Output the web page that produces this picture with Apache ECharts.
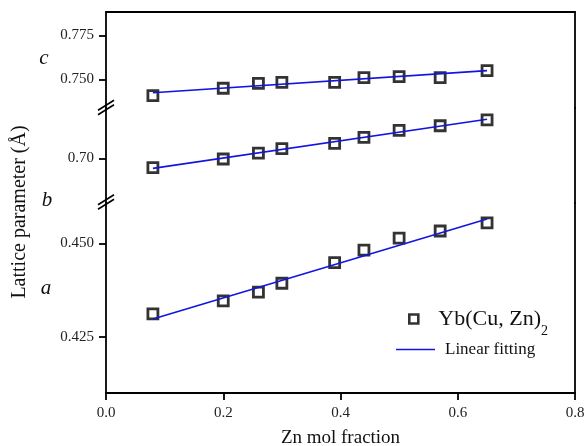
<!DOCTYPE html>
<html><head><meta charset="utf-8">
<script src="https://cdn.jsdelivr.net/npm/echarts@6/dist/echarts.min.js"></script>
<style>html,body{margin:0;padding:0;background:#fff}#c{width:587px;height:446px}</style>
</head><body><div id="c"></div>
<script>
// ---- data ----
const znFraction = [0.08, 0.2, 0.26, 0.3, 0.39, 0.44, 0.5, 0.57, 0.65];
const latticeC = [0.7407, 0.7449, 0.7477, 0.7483, 0.7483, 0.7509, 0.7515, 0.7509, 0.7549];
const latticeB = [0.6947, 0.6996, 0.7030, 0.7055, 0.7085, 0.7119, 0.7159, 0.7185, 0.7218];
const latticeA = [0.4311, 0.4346, 0.4369, 0.4393, 0.4448, 0.4482, 0.4514, 0.4533, 0.4555];
const fitX = [0.08, 0.65];
const fitC = [0.7424, 0.7549];
const fitB = [0.6943, 0.7222];
const fitA = [0.4297, 0.4565];
const xTickLabels = [0, 0.2, 0.4, 0.6, 0.8];
const yTicksC = [0.75, 0.775];
const yTicksB = [0.70];
const yTicksA = [0.425, 0.45];
const segLetters = ['c', 'b', 'a'];
const xTitle = 'Zn mol fraction';
const yTitle = 'Lattice parameter (Å)';
const legendScatter = 'Yb(Cu, Zn)2';
const legendFit = 'Linear fitting';

// ---- layout ----
const FONT = 'Liberation Serif';
const L = 106, R = 12;
const BLUE = '#1414e0';
const grids = [
  {top: 12, height: 96, min: 0.7337, max: 0.7882, ticks: yTicksC, dec: 3, vals: latticeC, fit: fitC},
  {top: 108, height: 95, min: 0.6746, max: 0.7286, ticks: yTicksB, dec: 2, vals: latticeB, fit: fitB},
  {top: 203, height: 190, min: 0.4099, max: 0.4608, ticks: yTicksA, dec: 3, vals: latticeA, fit: fitA}
];
const axisLine = {show: true, onZero: false, lineStyle: {color: '#000', width: 1.8}};
const labelStyle = {color: '#222', fontFamily: FONT, fontSize: 15};

const chart = echarts.init(document.getElementById('c'), null, {renderer: 'canvas'});

const option = {
  animation: false,
  backgroundColor: '#fff',
  grid: grids.map(g => ({left: L, right: R, top: g.top, height: g.height, outerBoundsMode: 'none', containLabel: false})),
  xAxis: grids.map((g, i) => ({
    type: 'value', gridIndex: i, min: 0, max: 0.8, interval: 0.2,
    position: i === 0 ? 'top' : 'bottom',
    show: i !== 1,
    axisLine: axisLine,
    axisTick: {show: i === 2, inside: false, length: 7, customValues: xTickLabels, lineStyle: {color: '#000', width: 1.8}},
    axisLabel: {show: i === 2, margin: 13, customValues: xTickLabels, formatter: v => v.toFixed(1), ...labelStyle},
    splitLine: {show: false},
    name: i === 2 ? xTitle : '',
    nameLocation: 'middle', nameGap: 36,
    nameTextStyle: {color: '#111', fontFamily: FONT, fontSize: 19}
  })),
  yAxis: grids.map((g, i) => ({
    type: 'value', gridIndex: i, min: g.min, max: g.max, position: 'left',
    axisLine: axisLine,
    axisTick: {show: true, inside: false, length: 7, customValues: g.ticks, lineStyle: {color: '#000', width: 1.8}},
    axisLabel: {show: true, margin: 12, customValues: g.ticks, formatter: v => v.toFixed(g.dec), ...labelStyle},
    splitLine: {show: false}
  })).concat(grids.map((g, i) => ({
    type: 'value', gridIndex: i, min: g.min, max: g.max, position: 'right',
    axisLine: axisLine, axisTick: {show: false}, axisLabel: {show: false}, splitLine: {show: false}
  }))),
  legend: [
    {
      data: [{name: legendScatter, icon: 'rect', itemStyle: {color: 'rgba(0,0,0,0)', borderColor: '#000', borderWidth: 2.6}}],
      left: 408, top: 308, padding: 0, itemWidth: 9, itemHeight: 9,
      formatter: () => '{a|Yb(Cu, Zn)}{s|2}',
      textStyle: {
        color: '#111', fontFamily: FONT,
        rich: {
          a: {fontFamily: FONT, fontSize: 22, color: '#111', lineHeight: 38, verticalAlign: 'middle', padding: [0, 0, 0, 15]},
          s: {fontFamily: FONT, fontSize: 14, color: '#111', lineHeight: 14, verticalAlign: 'bottom'}
        }
      }
    },
    {
      data: [{name: legendFit, icon: 'rect', itemStyle: {color: BLUE, borderWidth: 0}}],
      left: 396, top: 341, padding: 0, itemWidth: 39, itemHeight: 1.6,
      formatter: '{b|{name}}',
      textStyle: {
        color: '#111', fontFamily: FONT,
        rich: {b: {fontFamily: FONT, fontSize: 17, color: '#111', lineHeight: 20, padding: [0, 0, 0, 5]}}
      }
    }
  ],
  series: [].concat(
    grids.map((g, i) => ({
      type: 'line', name: legendFit, xAxisIndex: i, yAxisIndex: i,
      data: fitX.map((x, k) => [x, g.fit[k]]),
      symbol: 'none', silent: true, z: 3,
      lineStyle: {color: BLUE, width: 1.6}, itemStyle: {color: BLUE}
    })),
    grids.map((g, i) => ({
      type: 'scatter', name: legendScatter, xAxisIndex: i, yAxisIndex: i,
      data: znFraction.map((x, k) => [x, g.vals[k]]),
      symbol: 'rect', symbolSize: 10, silent: true, z: 2,
      itemStyle: {color: 'rgba(0,0,0,0)', borderColor: '#000', borderWidth: 2.8}
    }))
  ),
  graphic: []
};
chart.setOption(option);

// decorations: break marks, segment letters, y title
const gfx = [];
[107.5, 202].forEach(y0 => {
  [-2.2, 2.2].forEach(d => {
    gfx.push({type: 'line', shape: {x1: L - 8, y1: y0 + d + 5, x2: L + 8, y2: y0 + d - 5},
      style: {stroke: '#000', lineWidth: 1.6}, z: 10});
  });
});
const letterPos = [[44, 58], [47, 200], [46, 288]];
segLetters.forEach((t, i) => {
  gfx.push({type: 'text', x: letterPos[i][0], y: letterPos[i][1],
    style: {text: t, fontFamily: FONT, fontStyle: 'italic', fontSize: 21, fill: '#111', align: 'center', verticalAlign: 'middle'}});
});
gfx.push({type: 'text', x: 20, y: 212, rotation: Math.PI / 2,
  style: {text: yTitle, fontFamily: FONT, fontSize: 20, fill: '#111', align: 'center', verticalAlign: 'middle'}});
chart.setOption({graphic: gfx});
</script>
</body></html>
